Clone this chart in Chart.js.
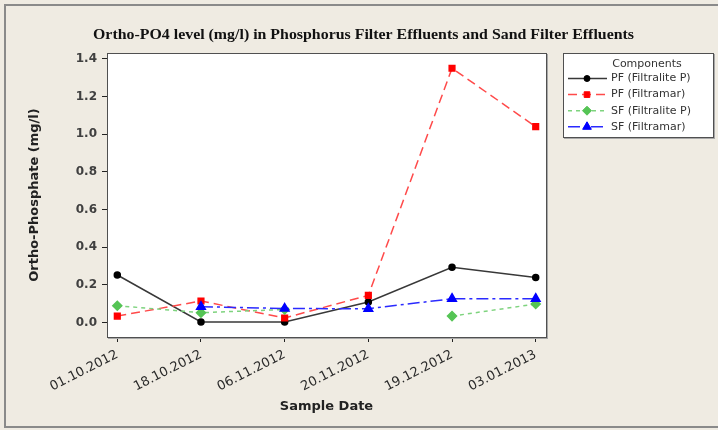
<!DOCTYPE html>
<html>
<head>
<meta charset="utf-8">
<script src="https://cdn.jsdelivr.net/npm/chart.js@4.4.1/dist/chart.umd.min.js"></script>
<style>
  html, body { margin: 0; padding: 0; background: #efebe2; }
  #wrap { width: 718px; height: 430px; }
</style>
</head>
<body>
<div id="wrap"><canvas id="chart" width="718" height="430"></canvas></div>
<script>
// Chart data
const sampleDates = ['01.10.2012', '18.10.2012', '06.11.2012', '20.11.2012', '19.12.2012', '03.01.2013'];
const pfFiltralite = [0.253, 0.004, 0.004, 0.11, 0.294, 0.24];
const pfFiltramar = [0.035, 0.115, 0.025, 0.145, 1.35, 1.04];
const sfFiltralite = [0.09, 0.053, 0.07, null, 0.035, 0.099];
const sfFiltramar = [null, 0.085, 0.075, 0.074, 0.127, 0.127];
const yTicks = [0, 0.2, 0.4, 0.6, 0.8, 1.0, 1.2, 1.4];
const seriesNames = ['PF (Filtralite P)', 'PF (Filtramar)', 'SF (Filtralite P)', 'SF (Filtramar)'];

const chartTitle = 'Ortho-PO4 level (mg/l) in Phosphorus Filter Effluents and Sand Filter Effluents';
const bgColor = '#efebe2';

function toPoints(values) {
    return values.map((v, i) => ({ x: i, y: v }));
}

const origDrawPoint = Chart.helpers.drawPoint;

// Background, frames, title and legend box drawn around the chart
const decorPlugin = {
    id: 'decor',
    beforeDraw(chart) {
        const ctx = chart.ctx;
        const a = chart.chartArea;
        ctx.save();
        ctx.fillStyle = bgColor;
        ctx.fillRect(0, 0, chart.width, chart.height);
        // outer frame
        ctx.strokeStyle = '#8a8a8a';
        ctx.lineWidth = 2;
        ctx.strokeRect(5, 5, chart.width + 10, chart.height - 8);
        // plot area
        ctx.fillStyle = '#ffffff';
        ctx.fillRect(a.left, a.top, a.right - a.left, a.bottom - a.top);

        // title, squeezed to the reference width
        ctx.font = 'bold 14px "Liberation Serif"';
        ctx.fillStyle = '#111111';
        ctx.textBaseline = 'middle';
        ctx.textAlign = 'left';
        const w = ctx.measureText(chartTitle).width;
        ctx.translate(93, 35);
        ctx.scale(541 / w, 1);
        ctx.fillText(chartTitle, 0, 0);
        ctx.restore();
    },
    afterDatasetsDraw(chart) {
        const ctx = chart.ctx;
        const a = chart.chartArea;
        ctx.save();
        // plot frame with a light shadow edge
        ctx.strokeStyle = '#a8a8a8';
        ctx.lineWidth = 2;
        ctx.beginPath();
        ctx.moveTo(a.right + 1, a.top + 1);
        ctx.lineTo(a.right + 1, a.bottom + 1);
        ctx.lineTo(a.left + 1, a.bottom + 1);
        ctx.stroke();
        ctx.strokeStyle = '#505050';
        ctx.lineWidth = 1;
        ctx.strokeRect(a.left + 0.5, a.top + 0.5, a.right - a.left, a.bottom - a.top);

        // legend box
        const lx = 563, ly = 53, lw = 150, lh = 84;
        ctx.fillStyle = '#ffffff';
        ctx.fillRect(lx, ly, lw, lh);
        ctx.strokeStyle = '#a8a8a8';
        ctx.lineWidth = 2;
        ctx.beginPath();
        ctx.moveTo(lx + lw + 1, ly + 1);
        ctx.lineTo(lx + lw + 1, ly + lh + 1);
        ctx.lineTo(lx + 1, ly + lh + 1);
        ctx.stroke();
        ctx.strokeStyle = '#505050';
        ctx.lineWidth = 1;
        ctx.strokeRect(lx + 0.5, ly + 0.5, lw, lh);

        ctx.fillStyle = '#333333';
        ctx.font = '11px "DejaVu Sans"';
        ctx.textBaseline = 'middle';
        ctx.textAlign = 'center';
        ctx.fillText('Components', 647, 64);
        ctx.textAlign = 'left';
        chart.data.datasets.forEach((ds, i) => {
            const y = 78.5 + i * 16.1;
            ctx.save();
            ctx.strokeStyle = ds.borderColor;
            ctx.lineWidth = ds.borderWidth;
            ctx.setLineDash(ds.borderDash || []);
            ctx.beginPath();
            ctx.moveTo(568, y);
            ctx.lineTo(607, y);
            ctx.stroke();
            ctx.restore();
            ctx.fillStyle = ds.backgroundColor;
            ctx.strokeStyle = ds.pointBorderColor;
            origDrawPoint(ctx, {
                pointStyle: ds.pointStyle,
                radius: ds.pointRadius,
                rotation: 0,
                borderWidth: 1
            }, 587, y);
            ctx.fillStyle = '#333333';
            ctx.fillText(ds.label, 611, y);
        });
        ctx.restore();
    }
};

const datasets = [
    {
        label: seriesNames[0],
        data: toPoints(pfFiltralite),
        borderColor: '#383838',
        backgroundColor: '#000000',
        pointBorderColor: '#000000',
        borderWidth: 1.5,
        pointStyle: 'circle',
        pointRadius: 3,
        order: 3
    },
    {
        label: seriesNames[1],
        data: toPoints(pfFiltramar),
        borderColor: '#ff4a4a',
        backgroundColor: '#ff0000',
        pointBorderColor: '#ff0000',
        borderWidth: 1.5,
        borderDash: [9, 5],
        pointStyle: 'rect',
        pointRadius: 4,
        order: 2
    },
    {
        label: seriesNames[2],
        data: toPoints(sfFiltralite),
        borderColor: '#7ed37e',
        backgroundColor: '#55c455',
        pointBorderColor: '#55c455',
        borderWidth: 1.5,
        borderDash: [4, 4],
        pointStyle: 'rectRot',
        pointRadius: 4.5,
        order: 1
    },
    {
        label: seriesNames[3],
        data: toPoints(sfFiltramar),
        borderColor: '#2a2aff',
        backgroundColor: '#0000ff',
        pointBorderColor: '#0000ff',
        borderWidth: 1.5,
        borderDash: [12, 4, 3, 4],
        pointStyle: 'triangle',
        pointRadius: 5,
        order: 0
    }
];

new Chart(document.getElementById('chart'), {
    type: 'line',
    data: { datasets: datasets },
    options: {
        responsive: false,
        animation: false,
        layout: { padding: { left: 8, top: 53, right: 172, bottom: 0 } },
        plugins: {
            legend: { display: false },
            title: { display: false },
            tooltip: { enabled: false }
        },
        elements: { line: { tension: 0 } },
        scales: {
            x: {
                type: 'linear',
                min: -0.123,
                max: 5.123,
                afterBuildTicks: scale => {
                    scale.ticks = sampleDates.map((d, i) => ({ value: i }));
                },
                afterFit: scale => { scale.height = 93; },
                ticks: {
                    callback: v => sampleDates[v],
                    color: '#2a2a2a',
                    font: { family: '"DejaVu Sans"', size: 13 },
                    minRotation: 27,
                    maxRotation: 27,
                    padding: 5,
                    autoSkip: false
                },
                grid: { drawOnChartArea: false, drawTicks: true, tickLength: 5, color: '#222222' },
                border: { display: false },
                title: {
                    display: true,
                    text: 'Sample Date',
                    color: '#222222',
                    font: { family: '"DejaVu Sans"', size: 13, weight: 'bold' },
                    padding: { top: 2, bottom: 16 }
                }
            },
            y: {
                min: -0.076,
                max: 1.431,
                afterBuildTicks: scale => {
                    scale.ticks = yTicks.map(v => ({ value: v }));
                },
                afterFit: scale => { scale.width = 99; },
                ticks: {
                    callback: v => v.toFixed(1),
                    color: '#404040',
                    font: { family: '"DejaVu Sans"', size: 12, weight: 'bold' },
                    padding: 5
                },
                grid: { drawOnChartArea: false, drawTicks: true, tickLength: 5, color: '#222222' },
                border: { display: false },
                title: {
                    display: true,
                    text: 'Ortho-Phosphate (mg/l)',
                    color: '#222222',
                    font: { family: '"DejaVu Sans"', size: 13, weight: 'bold' },
                    padding: { top: 19, bottom: 0 }
                }
            }
        }
    },
    plugins: [decorPlugin]
});
</script>
</body>
</html>
